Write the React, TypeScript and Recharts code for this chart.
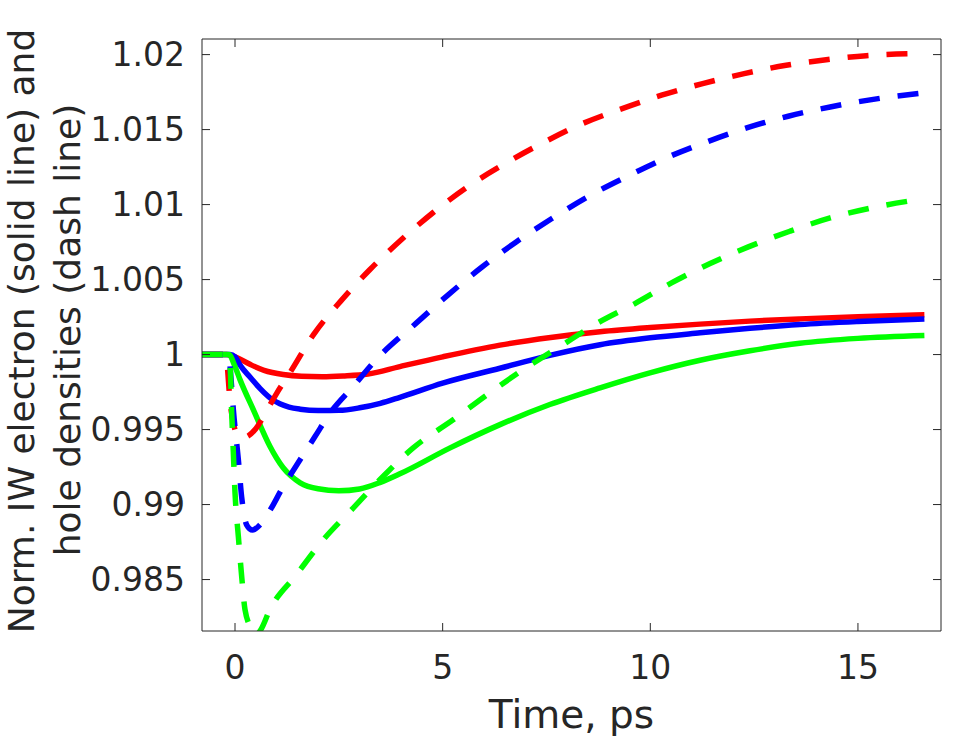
import { LineChart, Line, XAxis, YAxis } from 'recharts'

type Pt = { t: number; v: number }
const pts = (rows: number[][]): Pt[] => rows.map(([t, v]) => ({ t, v }))

// solid lines: IW electrons
const redSolid = pts([
  [-0.8, 1], [-0.2, 1], [0, 0.99985], [0.36, 0.99935], [0.7, 0.99895], [1.16, 0.99867],
  [1.6, 0.99855], [2.1, 0.99852], [2.6, 0.99857], [3.2, 0.9987], [3.97, 0.9992], [5, 0.99985],
  [6.38, 1.00063], [7.6, 1.00114], [8.79, 1.00152], [10, 1.0018], [11.2, 1.00203],
  [12.4, 1.00223], [13.6, 1.00238], [15, 1.00253], [16.6, 1.00265],
])
const blueSolid = pts([
  [-0.8, 1], [-0.12, 1], [0, 0.99985], [0.12, 0.9993], [0.36, 0.9985], [0.6, 0.99775],
  [0.85, 0.9971], [1.08, 0.99672], [1.3, 0.9965], [1.57, 0.99636], [2, 0.99627],
  [2.5, 0.99628], [3, 0.99645], [3.5, 0.99675], [3.97, 0.99715], [5, 0.9981],
  [6.38, 0.99909], [7.58, 0.99995], [8.79, 1.00066], [10, 1.00112], [11.2, 1.00145],
  [12.4, 1.00175], [13.6, 1.002], [15, 1.0022], [16.6, 1.00237],
])
const greenSolid = pts([
  [-0.8, 1], [-0.15, 1], [0, 0.9992], [0.12, 0.99833], [0.44, 0.99633], [0.84, 0.99389],
  [1, 0.9931], [1.16, 0.99245], [1.35, 0.9919], [1.57, 0.99145], [2, 0.99105],
  [2.5, 0.99092], [3, 0.99104], [3.5, 0.99148], [3.97, 0.99205], [5.18, 0.99378],
  [6.38, 0.99533], [7.58, 0.99667], [8.79, 0.99778], [9.99, 0.99878], [11.2, 0.99962],
  [12.4, 1.00025], [13.6, 1.00075], [15, 1.00108], [16.6, 1.00127],
])

// dashed lines: holes
const redDash = pts([
  [-0.8, 1], [-0.24, 1], [-0.2, 0.9996], [-0.12, 0.9969], [-0.02, 0.9952], [0.08, 0.99455],
  [0.16, 0.99445], [0.3, 0.99455], [0.5, 0.99505], [0.76, 0.99625], [1, 0.9974],
  [1.32, 0.99878], [1.89, 1.00133], [2.54, 1.00355], [3.25, 1.00567], [4.01, 1.00767],
  [4.78, 1.00949], [5.62, 1.01122], [6.5, 1.01273], [7.38, 1.01407], [8.31, 1.01533],
  [9.27, 1.01635], [10.27, 1.01729], [11.26, 1.01807], [12.26, 1.01873], [13.27, 1.01929],
  [14.28, 1.01967], [15.2, 1.01993], [16.6, 1.02008],
])
const blueDash = pts([
  [-0.8, 1], [-0.15, 1], [-0.1, 0.9985], [-0.04, 0.99633], [0.08, 0.993], [0.16, 0.9905],
  [0.28, 0.98865], [0.42, 0.9883], [0.6, 0.98865], [0.85, 0.98965], [1.12, 0.991],
  [1.57, 0.993], [1.93, 0.99455], [2.29, 0.99611], [2.85, 0.99789], [3.41, 0.9997],
  [4.37, 1.00211], [5.14, 1.004], [5.94, 1.00582], [6.77, 1.00751], [7.63, 1.00907],
  [8.51, 1.01055], [9.43, 1.01186], [10.38, 1.01311], [11.34, 1.01416], [12.32, 1.01511],
  [13.32, 1.01589], [14.33, 1.01651], [15.33, 1.017], [16.6, 1.01745],
])
const greenDash = pts([
  [-0.8, 1], [-0.2, 1], [-0.12, 0.9993], [-0.08, 0.9961], [-0.04, 0.99345], [0, 0.99078],
  [0.08, 0.98789], [0.16, 0.98522], [0.24, 0.983], [0.4, 0.9817], [0.5, 0.9813],
  [0.62, 0.98165], [0.84, 0.983], [1.48, 0.98533], [2.13, 0.98767], [2.85, 0.98978],
  [3.57, 0.99189], [4.29, 0.99378], [5.26, 0.99567], [6.1, 0.99738], [6.94, 0.999],
  [7.83, 1.00055], [8.71, 1.00207], [9.63, 1.0034], [10.51, 1.00478], [11.44, 1.00607],
  [12.36, 1.00718], [13.36, 1.00822], [14.33, 1.00911], [15.33, 1.00978], [16.6, 1.0104],
])

const xTicks = [0, 5, 10, 15]
const yTicks = [0.985, 0.99, 0.995, 1, 1.005, 1.01, 1.015, 1.02]
const xDomain = [-0.795, 17]
const yDomain = [0.98157, 1.02104]

const INK = '#262626'
const FONT = '"DejaVu Sans", sans-serif'
const DASH = '21 18'
const LW = 5.5
const TL = 8 // inward tick length
const X_GAP = 25
const Y_GAP = 17

const fmtY = (v: number) => String(Number(v.toFixed(3)))

function BottomTick({ x, y, payload }: any) {
  const base = y - X_GAP
  return (
    <g>
      <line x1={x} x2={x} y1={base} y2={base - TL} stroke={INK} strokeWidth={1} />
      <text x={x} y={y} dy="0.71em" textAnchor="middle" fill={INK} fontSize={33} fontFamily={FONT}>
        {payload.value}
      </text>
    </g>
  )
}

function LeftTick({ x, y, payload }: any) {
  const base = x + Y_GAP
  return (
    <g>
      <line x1={base} x2={base + TL} y1={y} y2={y} stroke={INK} strokeWidth={1} />
      <text x={x} y={y} dy="0.355em" textAnchor="end" fill={INK} fontSize={33} fontFamily={FONT}>
        {fmtY(payload.value)}
      </text>
    </g>
  )
}

function TopTick({ x, y }: any) {
  return <line x1={x} x2={x} y1={y} y2={y + TL} stroke={INK} strokeWidth={1} />
}

function RightTick({ x, y }: any) {
  return <line x1={x} x2={x - TL} y1={y} y2={y} stroke={INK} strokeWidth={1} />
}

function YLabel() {
  return (
    <g fill={INK} fontFamily={FONT} fontSize={36}>
      <text x={34} y={331} textAnchor="middle" transform="rotate(-90 34 331)">
        Norm. IW electron (solid line) and
      </text>
      <text x={80} y={330} textAnchor="middle" transform="rotate(-90 80 330)">
        hole densities (dash line)
      </text>
    </g>
  )
}

function XLabel(props: any) {
  const vb = props.viewBox || {}
  const cx = (vb.x ?? 202) + (vb.width ?? 739) / 2
  return (
    <text x={cx} y={728} textAnchor="middle" fill={INK} fontFamily={FONT} fontSize={39}>
      Time, ps
    </text>
  )
}

export default function App() {
  const axisStyle = { stroke: INK, strokeWidth: 1 }
  const common = { dataKey: 'v', type: 'monotone' as const, strokeWidth: LW, dot: false, isAnimationActive: false }
  return (
    <div style={{ position: 'absolute', left: 0, top: 0, width: 974, height: 738, background: '#fff' }}>
      <LineChart width={974} height={738} margin={{ top: 38, right: 32, bottom: 47, left: 102 }}>
        <XAxis
          dataKey="t"
          type="number"
          domain={xDomain}
          ticks={xTicks}
          interval={0}
          allowDataOverflow
          height={60}
          tickSize={0}
          tickMargin={X_GAP}
          axisLine={axisStyle}
          tickLine={false}
          tick={BottomTick}
          label={XLabel}
        />
        <XAxis
          xAxisId="top"
          orientation="top"
          dataKey="t"
          type="number"
          domain={xDomain}
          ticks={xTicks}
          interval={0}
          allowDataOverflow
          height={1}
          tickSize={0}
          tickMargin={0}
          axisLine={axisStyle}
          tickLine={false}
          tick={TopTick}
        />
        <YAxis
          type="number"
          domain={yDomain}
          ticks={yTicks}
          interval={0}
          allowDataOverflow
          width={100}
          tickSize={0}
          tickMargin={Y_GAP}
          axisLine={axisStyle}
          tickLine={false}
          tick={LeftTick}
          label={YLabel}
        />
        <YAxis
          yAxisId="right"
          orientation="right"
          type="number"
          domain={yDomain}
          ticks={yTicks}
          interval={0}
          allowDataOverflow
          width={1}
          tickSize={0}
          tickMargin={0}
          axisLine={axisStyle}
          tickLine={false}
          tick={RightTick}
        />
        <Line {...common} data={redSolid} stroke="#ff0000" />
        <Line {...common} data={blueSolid} stroke="#0000ff" />
        <Line {...common} data={greenSolid} stroke="#00ff00" />
        <Line {...common} data={redDash} stroke="#ff0000" strokeDasharray={DASH} xAxisId="top" yAxisId="right" />
        <Line {...common} data={blueDash} stroke="#0000ff" strokeDasharray={DASH} xAxisId="top" yAxisId="right" />
        <Line {...common} data={greenDash} stroke="#00ff00" strokeDasharray={DASH} xAxisId="top" yAxisId="right" />
      </LineChart>
    </div>
  )
}
